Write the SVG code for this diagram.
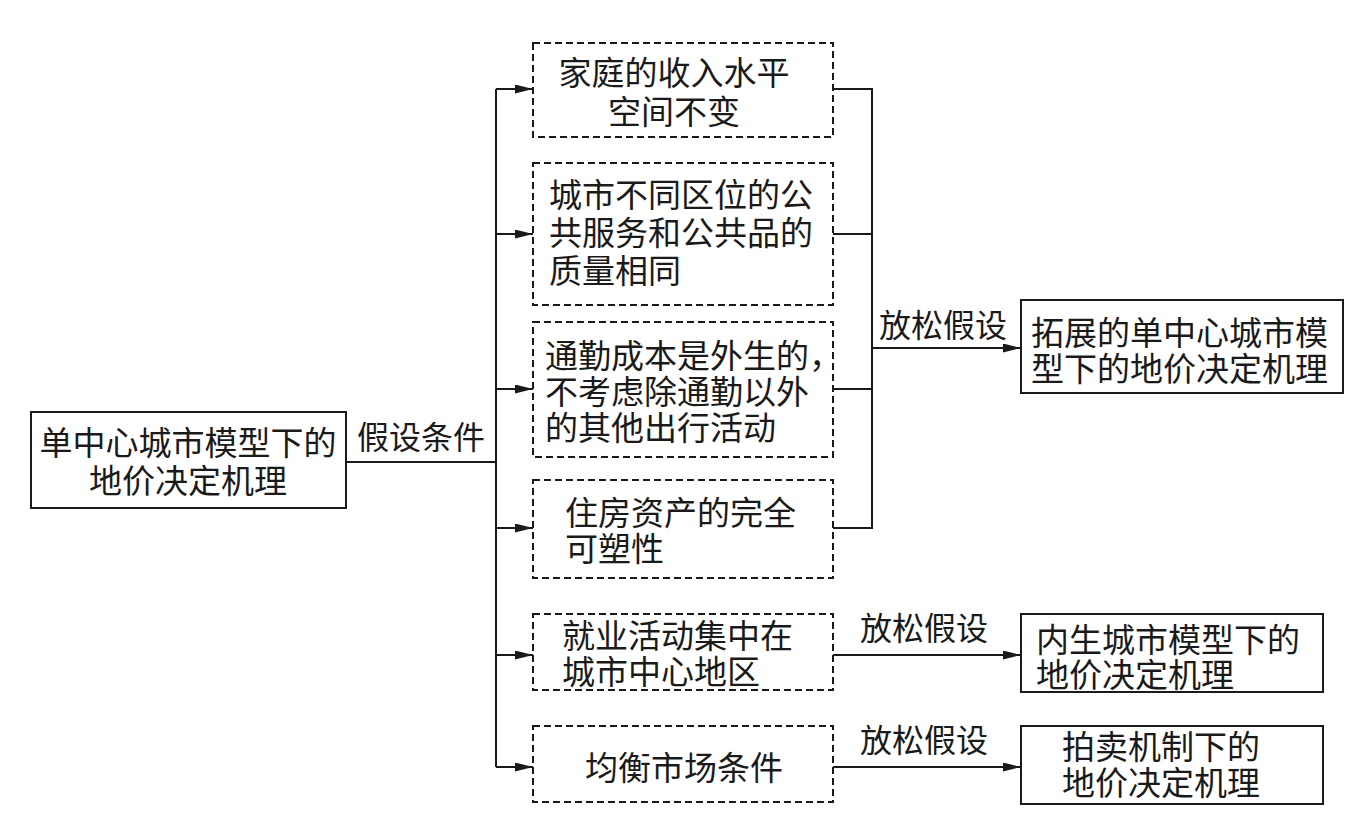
<svg xmlns="http://www.w3.org/2000/svg" width="1365" height="825" viewBox="0 0 1365 825">
<style>
  .solid { fill: #fff; stroke: #1a1a1a; stroke-width: 2; }
  .dash { fill: #fff; stroke: #1a1a1a; stroke-width: 2; stroke-dasharray: 7 4; }
  .t { font-family: "Noto Sans CJK SC", "Liberation Serif", sans-serif; font-size: 33px; fill: #1a1a1a; }
  .lbl { font-family: "Noto Sans CJK SC", "Liberation Serif", sans-serif; font-size: 32px; fill: #1a1a1a; }
  .m { text-anchor: middle; }
  .c { fill: none; stroke: #1a1a1a; stroke-width: 2; }
</style>
<defs>
  <marker id="arr" markerUnits="userSpaceOnUse" markerWidth="18" markerHeight="9" refX="18" refY="4.5" orient="auto">
    <path d="M0,0 L18,4.5 L0,9 z" fill="#1a1a1a"/>
  </marker>
</defs>
<rect width="1365" height="825" fill="#fff"/>

<g id="connectors">
  <line class="c" x1="346" y1="462" x2="496" y2="462"/>
  <line class="c" x1="496" y1="89" x2="496" y2="767"/>
  <line class="c" x1="496" y1="89" x2="533" y2="89" marker-end="url(#arr)"/>
  <line class="c" x1="496" y1="234" x2="533" y2="234" marker-end="url(#arr)"/>
  <line class="c" x1="496" y1="389" x2="533" y2="389" marker-end="url(#arr)"/>
  <line class="c" x1="496" y1="528" x2="533" y2="528" marker-end="url(#arr)"/>
  <line class="c" x1="496" y1="655" x2="533" y2="655" marker-end="url(#arr)"/>
  <line class="c" x1="496" y1="767" x2="533" y2="767" marker-end="url(#arr)"/>
  <polyline class="c" points="833,89 872,89 872,528 833,528"/>
  <line class="c" x1="833" y1="234" x2="872" y2="234"/>
  <line class="c" x1="833" y1="389" x2="872" y2="389"/>
  <line class="c" x1="872" y1="348" x2="1021" y2="348" marker-end="url(#arr)"/>
  <line class="c" x1="833" y1="655" x2="1021" y2="655" marker-end="url(#arr)"/>
  <line class="c" x1="833" y1="767" x2="1021" y2="767" marker-end="url(#arr)"/>
  <text class="lbl m" x="421" y="449">假设条件</text>
  <text class="lbl m" x="943" y="337">放松假设</text>
  <text class="lbl m" x="924" y="640">放松假设</text>
  <text class="lbl m" x="924" y="752">放松假设</text>
</g>

<g id="root">
  <rect class="solid" x="31" y="412" width="315" height="96"/>
  <text class="t m" x="188" y="455">单中心城市模型下的</text>
  <text class="t m" x="188" y="493">地价决定机理</text>
</g>

<g id="a1">
  <rect class="dash" x="533" y="43" width="300" height="94"/>
  <text class="t m" x="674" y="85">家庭的收入水平</text>
  <text class="t m" x="674" y="124">空间不变</text>
</g>

<g id="a2">
  <rect class="dash" x="533" y="163" width="300" height="142"/>
  <text class="t" x="549" y="207">城市不同区位的公</text>
  <text class="t" x="549" y="245">共服务和公共品的</text>
  <text class="t" x="549" y="283">质量相同</text>
</g>

<g id="a3">
  <rect class="dash" x="533" y="322" width="300" height="135"/>
  <text class="t" x="545" y="368">通勤成本是外生的，</text>
  <text class="t" x="545" y="404">不考虑除通勤以外</text>
  <text class="t" x="545" y="440">的其他出行活动</text>
</g>

<g id="a4">
  <rect class="dash" x="533" y="480" width="300" height="98"/>
  <text class="t" x="565" y="525">住房资产的完全</text>
  <text class="t" x="565" y="561">可塑性</text>
</g>

<g id="a5">
  <rect class="dash" x="533" y="614" width="300" height="76"/>
  <text class="t" x="562" y="648">就业活动集中在</text>
  <text class="t" x="562" y="684">城市中心地区</text>
</g>

<g id="a6">
  <rect class="dash" x="533" y="726" width="300" height="76"/>
  <text class="t m" x="684" y="780">均衡市场条件</text>
</g>

<g id="r1">
  <rect class="solid" x="1021" y="300" width="322" height="93"/>
  <text class="t" x="1031" y="345">拓展的单中心城市模</text>
  <text class="t" x="1031" y="381">型下的地价决定机理</text>
</g>

<g id="r2">
  <rect class="solid" x="1021" y="614" width="302" height="78"/>
  <text class="t" x="1036" y="652">内生城市模型下的</text>
  <text class="t" x="1036" y="687">地价决定机理</text>
</g>

<g id="r3">
  <rect class="solid" x="1021" y="726" width="302" height="78"/>
  <text class="t m" x="1161" y="759">拍卖机制下的</text>
  <text class="t m" x="1161" y="795">地价决定机理</text>
</g>
</svg>
